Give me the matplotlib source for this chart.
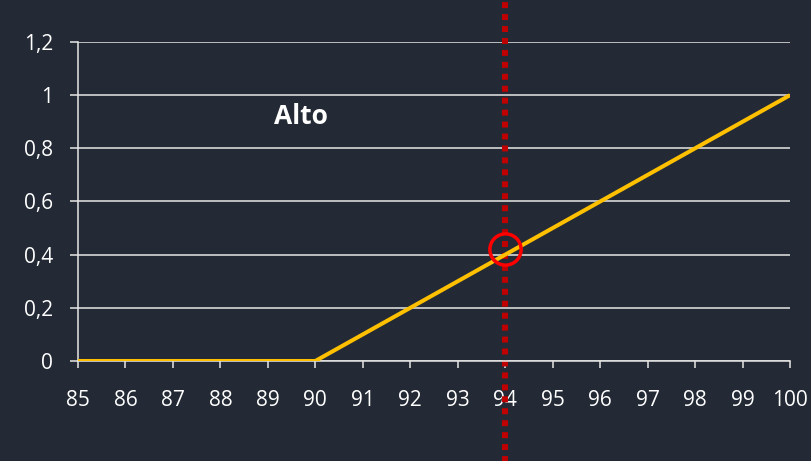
import matplotlib.pyplot as plt
import numpy as np

# membership function "Alto"
x_vals = [85, 90, 100]
y_vals = [0, 0, 1]
x_mark = 94
y_mark = 0.42
label = "Alto"
x_ticks = list(range(85, 101))
y_ticks = [0, 0.2, 0.4, 0.6, 0.8, 1, 1.2]
y_ticklabels = ["0", "0,2", "0,4", "0,6", "0,8", "1", "1,2"]

bg = "#232a35"
plt.rcParams['font.family'] = ['Open Sans', 'DejaVu Sans']

fig = plt.figure(figsize=(8.11, 4.61), dpi=100, facecolor=bg)
ax = fig.add_axes([78/811, 100/461, 712/811, 319/461], facecolor=bg)

ax.plot(x_vals, y_vals, color="#ffc000", lw=2.9, solid_capstyle="butt", zorder=3)

# red dotted line running past the axes
ax.axvline(x_mark, ymin=-0.32, ymax=1.14, color="#c00000", lw=4.3,
           linestyle=(0, (1, 1)), dash_capstyle="butt", clip_on=False, zorder=2)
ax.plot([x_mark], [y_mark], marker="o", ms=22.5, mfc="none", mec="#ff0000",
        mew=2.5, zorder=5, clip_on=False)

ax.text(89.7, 0.918, label, color="white", fontsize=19, fontweight="bold",
        ha="center", va="center")

ax.set_xlim(85, 100)
ax.set_ylim(0, 1.2)
ax.set_xticks(x_ticks)
ax.set_xticklabels([str(v) for v in x_ticks])
ax.set_yticks(y_ticks)
ax.set_yticklabels(y_ticklabels)

ax.grid(axis="y", color="#e6e6e6", lw=1.1)
ax.set_axisbelow(True)
for s in ["top", "right"]:
    ax.spines[s].set_visible(False)
ax.spines["left"].set_color("#e6e6e6")
ax.spines["bottom"].set_color("#e6e6e6")
ax.spines["left"].set_linewidth(1.1)
ax.spines["bottom"].set_linewidth(1.1)

ax.tick_params(axis="x", colors="#e6e6e6", length=5, width=1.1, pad=16,
               labelsize=15, labelcolor="white")
ax.tick_params(axis="y", colors="#e6e6e6", length=6, width=1.1, pad=12,
               labelsize=15, labelcolor="white")

fig.savefig("out.png", dpi=100, facecolor=bg)
